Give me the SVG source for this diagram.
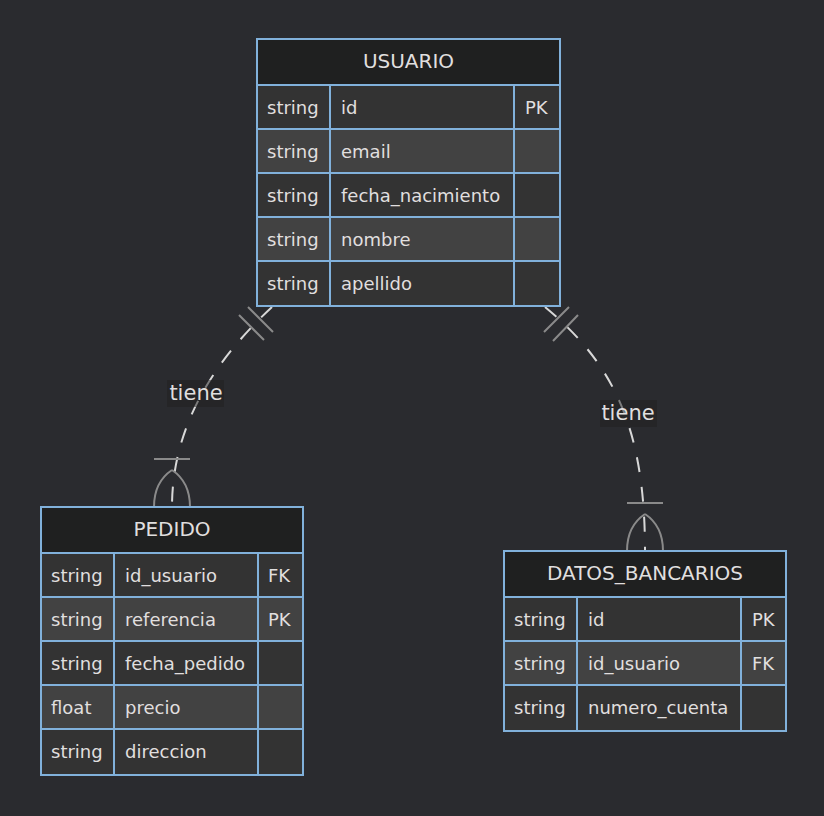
<svg xmlns="http://www.w3.org/2000/svg" width="824" height="816" viewBox="0 0 824 816">
<style>
.bg{fill:#2a2b2f}
.hdr{fill:#1f2020;stroke:#81b1db;stroke-width:2}
.r1{fill:#333333;stroke:#81b1db;stroke-width:2}
.r2{fill:#424242;stroke:#81b1db;stroke-width:2}
.t{font-family:"DejaVu Sans",sans-serif;font-size:18px;fill:#e0dfdf}
.h{font-family:"DejaVu Sans",sans-serif;font-size:20px;fill:#e0dfdf;text-anchor:middle}
.rel{fill:none;stroke:#d8d8d8;stroke-width:2;stroke-dasharray:15 15}
.mk{fill:none;stroke:#8a8a8a;stroke-width:2}
.lblbg{fill:#1f2020;opacity:0.5}
.lbl{font-family:"DejaVu Sans",sans-serif;font-size:21px;fill:#e0dfdf;text-anchor:middle}
</style>
<rect class="bg" x="0" y="0" width="824" height="816"/>
<g id="connectors">
<path class="rel" d="M272,307 C215,360 172,425 172,507"/>
<path class="rel" d="M545,307 C615,365 645,430 645,551"/>
<path class="mk" d="M248,307 L273,332 M239,315 L264,340"/>
<path class="mk" d="M154,459 L190,459 M172,470 Q154,482 154,507 M172,470 Q190,482 190,507"/>
<path class="mk" d="M544,332 L569,307 M553,341 L578,315"/>
<path class="mk" d="M627,503 L663,503 M645,514 Q627,526 627,551 M645,514 Q663,526 663,551"/>
<rect class="lblbg" x="167" y="380" width="57" height="27"/>
<text class="lbl" x="196" y="400">tiene</text>
<rect class="lblbg" x="600" y="400" width="57" height="27"/>
<text class="lbl" x="628" y="420">tiene</text>
</g>
<g id="usuario">
<rect class="hdr" x="257" y="39" width="303" height="46"/>
<text class="h" x="408.5" y="68">USUARIO</text>
<rect class="r1" x="257" y="85" width="73" height="44"/><rect class="r1" x="330" y="85" width="184" height="44"/><rect class="r1" x="514" y="85" width="46" height="44"/>
<rect class="r2" x="257" y="129" width="73" height="44"/><rect class="r2" x="330" y="129" width="184" height="44"/><rect class="r2" x="514" y="129" width="46" height="44"/>
<rect class="r1" x="257" y="173" width="73" height="44"/><rect class="r1" x="330" y="173" width="184" height="44"/><rect class="r1" x="514" y="173" width="46" height="44"/>
<rect class="r2" x="257" y="217" width="73" height="44"/><rect class="r2" x="330" y="217" width="184" height="44"/><rect class="r2" x="514" y="217" width="46" height="44"/>
<rect class="r1" x="257" y="261" width="73" height="45"/><rect class="r1" x="330" y="261" width="184" height="45"/><rect class="r1" x="514" y="261" width="46" height="45"/>
<text class="t" x="267" y="114">string</text><text class="t" x="341" y="114">id</text><text class="t" x="525" y="114">PK</text>
<text class="t" x="267" y="158">string</text><text class="t" x="341" y="158">email</text>
<text class="t" x="267" y="202">string</text><text class="t" x="341" y="202">fecha_nacimiento</text>
<text class="t" x="267" y="246">string</text><text class="t" x="341" y="246">nombre</text>
<text class="t" x="267" y="290">string</text><text class="t" x="341" y="290">apellido</text>
</g>
<g id="pedido">
<rect class="hdr" x="41" y="507" width="262" height="46"/>
<text class="h" x="172" y="536">PEDIDO</text>
<rect class="r1" x="41" y="553" width="73" height="44"/><rect class="r1" x="114" y="553" width="144" height="44"/><rect class="r1" x="258" y="553" width="45" height="44"/>
<rect class="r2" x="41" y="597" width="73" height="44"/><rect class="r2" x="114" y="597" width="144" height="44"/><rect class="r2" x="258" y="597" width="45" height="44"/>
<rect class="r1" x="41" y="641" width="73" height="44"/><rect class="r1" x="114" y="641" width="144" height="44"/><rect class="r1" x="258" y="641" width="45" height="44"/>
<rect class="r2" x="41" y="685" width="73" height="44"/><rect class="r2" x="114" y="685" width="144" height="44"/><rect class="r2" x="258" y="685" width="45" height="44"/>
<rect class="r1" x="41" y="729" width="73" height="46"/><rect class="r1" x="114" y="729" width="144" height="46"/><rect class="r1" x="258" y="729" width="45" height="46"/>
<text class="t" x="51" y="582">string</text><text class="t" x="125" y="582">id_usuario</text><text class="t" x="268" y="582">FK</text>
<text class="t" x="51" y="626">string</text><text class="t" x="125" y="626">referencia</text><text class="t" x="268" y="626">PK</text>
<text class="t" x="51" y="670">string</text><text class="t" x="125" y="670">fecha_pedido</text>
<text class="t" x="51" y="714">float</text><text class="t" x="125" y="714">precio</text>
<text class="t" x="51" y="758">string</text><text class="t" x="125" y="758">direccion</text>
</g>
<g id="datos_bancarios">
<rect class="hdr" x="504" y="551" width="282" height="46"/>
<text class="h" x="645" y="580">DATOS_BANCARIOS</text>
<rect class="r1" x="504" y="597" width="73" height="44"/><rect class="r1" x="577" y="597" width="164" height="44"/><rect class="r1" x="741" y="597" width="45" height="44"/>
<rect class="r2" x="504" y="641" width="73" height="44"/><rect class="r2" x="577" y="641" width="164" height="44"/><rect class="r2" x="741" y="641" width="45" height="44"/>
<rect class="r1" x="504" y="685" width="73" height="46"/><rect class="r1" x="577" y="685" width="164" height="46"/><rect class="r1" x="741" y="685" width="45" height="46"/>
<text class="t" x="514" y="626">string</text><text class="t" x="588" y="626">id</text><text class="t" x="752" y="626">PK</text>
<text class="t" x="514" y="670">string</text><text class="t" x="588" y="670">id_usuario</text><text class="t" x="752" y="670">FK</text>
<text class="t" x="514" y="714">string</text><text class="t" x="588" y="714">numero_cuenta</text>
</g>
</svg>
